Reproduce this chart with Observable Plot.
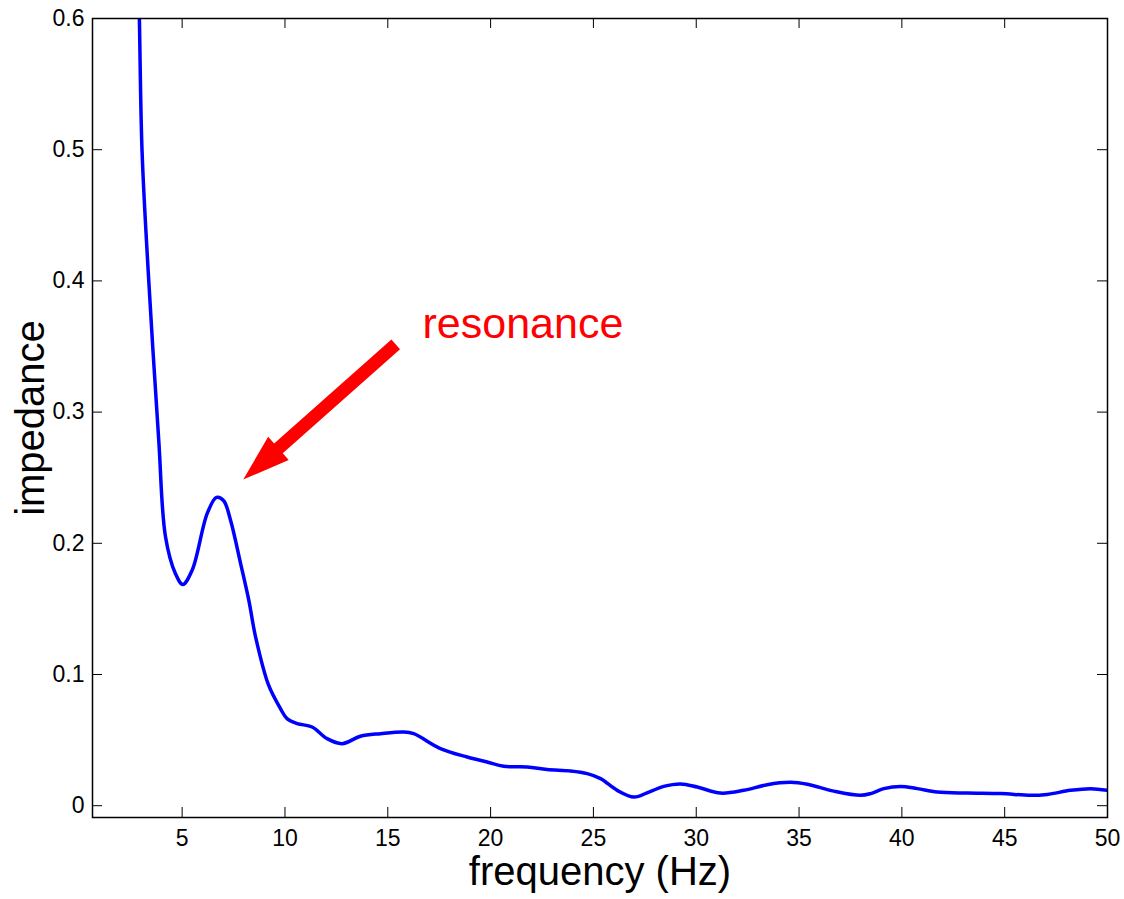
<!DOCTYPE html>
<html>
<head>
<meta charset="utf-8">
<script src="https://cdn.jsdelivr.net/npm/d3@7"></script>
<script src="https://cdn.jsdelivr.net/npm/@observablehq/plot@0.6"></script>
<style>
  html, body { margin: 0; padding: 0; background: #fff; }
  #chart svg { display: block; }
</style>
</head>
<body>
<div id="chart"></div>
<script>
// ---- data ----
const freq = [2.85, 2.92, 3.05, 3.38, 3.86, 4.19, 4.67, 5.03, 5.49, 6.22, 6.67, 7.02, 7.35, 7.84, 8.24, 8.57,
  9.2, 9.78, 10.1, 10.6, 11.32, 12.05, 12.78, 13.67, 14.65, 15.78, 16.26, 17.56, 18.86, 19.83, 20.64,
  21.78, 22.75, 23.89, 24.7, 25.35, 26.16, 26.97, 27.7, 28.42, 29.24, 30.05, 31.18, 32.31, 33.45,
  34.59, 35.4, 36.69, 37.99, 38.48, 39.12, 39.94, 40.75, 41.72, 43.18, 44.8, 46.26, 47.07, 48.2, 49.18, 50];
const impedance = [0.65, 0.600, 0.499, 0.399, 0.279, 0.205, 0.177, 0.1686, 0.1796, 0.2228, 0.235, 0.2324, 0.2177, 0.1847, 0.1567, 0.1287,
  0.092, 0.074, 0.0664, 0.0626, 0.060, 0.0511, 0.0473, 0.0529, 0.0549, 0.0562, 0.0549, 0.0435, 0.0371, 0.0333, 0.030,
  0.0295, 0.0275, 0.0264, 0.0244, 0.0206, 0.0117, 0.0066, 0.0104, 0.0147, 0.0166, 0.0142, 0.0096, 0.0117, 0.016,
  0.0178, 0.0163, 0.0111, 0.0079, 0.0092, 0.013, 0.0147, 0.013, 0.0104, 0.0096, 0.0092, 0.0079, 0.0086, 0.0117, 0.013, 0.0117];
const xTicks = [5, 10, 15, 20, 25, 30, 35, 40, 45, 50];
const yTicks = [0, 0.1, 0.2, 0.3, 0.4, 0.5, 0.6];
const xDomain = [0.64, 50];
const yDomain = [-0.009, 0.6];
const annotationText = ["resonance"];
const annotationX = [16.69];
const annotationY = [0.367];
const arrowTail = [15.41, 0.3512];
const arrowTip = [7.996, 0.2482];
const xLabel = "frequency (Hz)";
const yLabel = "impedance";

// ---- chart ----
const W = 1124, H = 899;
const mL = 92, mR = 17, mT = 18, mB = 82;
const innerW = W - mL - mR, innerH = H - mT - mB;
const tickLen = 10;
const font = "'Liberation Sans', Arial, sans-serif";
const data = freq.map((f, i) => ({f, v: impedance[i]}));

function arrowMark(index, scales) {
  const sx = scales.x, sy = scales.y;
  const tx = sx(arrowTail[0]), ty = sy(arrowTail[1]);
  const px = sx(arrowTip[0]), py = sy(arrowTip[1]);
  const dx = px - tx, dy = py - ty, len = Math.hypot(dx, dy);
  const ux = dx / len, uy = dy / len, nx = -uy, ny = ux;
  const sw = 6.5, hw = 15.5, hl = 47;
  const bx = px - ux * hl, by = py - uy * hl;
  const pts = [
    [tx + nx * sw, ty + ny * sw], [bx + nx * sw, by + ny * sw], [bx + nx * hw, by + ny * hw],
    [px, py], [bx - nx * hw, by - ny * hw], [bx - nx * sw, by - ny * sw], [tx - nx * sw, ty - ny * sw]
  ];
  const path = document.createElementNS("http://www.w3.org/2000/svg", "path");
  path.setAttribute("d", "M" + pts.map(p => p.join(",")).join("L") + "Z");
  path.setAttribute("fill", "#ff0000");
  return path;
}

const chart = Plot.plot({
  width: W, height: H,
  marginLeft: mL, marginRight: mR, marginTop: mT, marginBottom: mB,
  style: {fontFamily: font, color: "black", background: "white", overflow: "visible"},
  x: {domain: xDomain, label: null, axis: null},
  y: {domain: yDomain, label: null, axis: null},
  marks: [
    // tick labels
    Plot.text(xTicks, {x: d => d, text: d => String(d), frameAnchor: "bottom", dy: 28, fontSize: 23, fill: "black", fontFamily: font}),
    Plot.text(yTicks, {y: d => d, text: d => String(d), frameAnchor: "left", textAnchor: "end", dx: -8, fontSize: 23, fill: "black", fontFamily: font}),
    // inward ticks on all four sides
    Plot.tickX(xTicks, {x: d => d, insetTop: innerH - tickLen, stroke: "black", strokeWidth: 1}),
    Plot.tickX(xTicks, {x: d => d, insetBottom: innerH - tickLen, stroke: "black", strokeWidth: 1}),
    Plot.tickY(yTicks, {y: d => d, insetRight: innerW - tickLen, stroke: "black", strokeWidth: 1}),
    Plot.tickY(yTicks, {y: d => d, insetLeft: innerW - tickLen, stroke: "black", strokeWidth: 1}),
    Plot.line(data, {x: "f", y: "v", stroke: "#0000ff", strokeWidth: 3.5, clip: true, strokeLinejoin: "round", curve: "catmull-rom"}),
    arrowMark,
    Plot.text(annotationText, {x: (d, i) => annotationX[i], y: (d, i) => annotationY[i], text: d => d,
      textAnchor: "start", fill: "#ff0000", fontSize: 43, fontFamily: font}),
    Plot.text([xLabel], {text: d => d, frameAnchor: "bottom", dy: 67, fontSize: 40, fill: "black", fontFamily: font}),
    Plot.text([yLabel], {text: d => d, frameAnchor: "left", textAnchor: "middle", dx: -61, rotate: -90, fontSize: 40, fill: "black", fontFamily: font}),
    Plot.frame({stroke: "black", strokeWidth: 1.5})
  ]
});
document.getElementById("chart").appendChild(chart);
</script>
</body>
</html>
